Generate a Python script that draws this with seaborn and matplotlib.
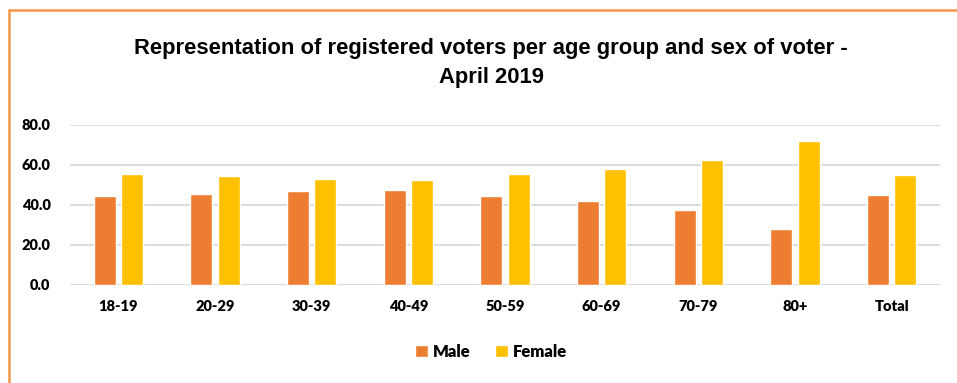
import pandas as pd
import matplotlib
matplotlib.use("Agg")
import matplotlib.pyplot as plt
import seaborn as sns
from matplotlib.patches import Rectangle

# Data (percent of registered voters)
age_groups = ["18-19", "20-29", "30-39", "40-49", "50-59", "60-69", "70-79", "80+", "Total"]
male = [44.4, 45.7, 47.2, 47.5, 44.3, 42.2, 37.6, 27.9, 45.0]
female = [55.6, 54.3, 52.8, 52.5, 55.7, 57.8, 62.4, 72.1, 55.0]
y_ticks = [0, 20, 40, 60, 80]

df = pd.DataFrame({
    "age": age_groups * 2,
    "sex": ["Male"] * len(male) + ["Female"] * len(female),
    "pct": male + female,
})

sns.set_style("white")
plt.rcParams["font.family"] = ["Lato", "DejaVu Sans"]
plt.rcParams["text.color"] = "black"
plt.rcParams["xtick.color"] = "black"
plt.rcParams["ytick.color"] = "black"

fig = plt.figure(figsize=(9.57, 3.83), dpi=100)
ax = fig.add_axes([70 / 957, 98 / 383, 870 / 957, 160 / 383])

sns.barplot(data=df, x="age", y="pct", hue="sex", order=age_groups,
            hue_order=["Male", "Female"], palette=["#ED7D31", "#FFC000"],
            saturation=1, width=0.57, gap=0.2, ax=ax, legend=True)

ax.set_ylim(0, 80)
ax.set_yticks(y_ticks)
ax.set_yticklabels([f"{v:.1f}" for v in y_ticks], fontweight="heavy", fontsize=10.5)
ax.set_xticks(range(len(age_groups)))
ax.set_xticklabels(age_groups, fontweight="heavy", fontsize=10.5)
ax.set_xlim(-0.5, len(age_groups) - 0.5)
ax.set_xlabel("")
ax.set_ylabel("")
ax.tick_params(axis="y", length=0, pad=14)
ax.tick_params(axis="x", length=0, pad=11)
ax.grid(axis="y", color="#D9D9D9", linewidth=1.3)
ax.set_axisbelow(True)
sns.despine(ax=ax, left=True, bottom=True, top=True, right=True)

leg = ax.legend(loc="center", bbox_to_anchor=(491 / 957, 1 - 352 / 383),
                bbox_transform=fig.transFigure, ncol=2, frameon=False,
                handlelength=0.75, handleheight=0.75, handletextpad=0.3,
                columnspacing=1.5, prop={"weight": "heavy", "size": 12})

fig.text(491 / 957, 1 - 63 / 383,
         "Representation of registered voters per age group and sex of voter -\nApril 2019",
         ha="center", va="center", fontsize=15.8, fontweight="bold", color="black",
         family=["Liberation Sans", "DejaVu Sans"], linespacing=1.5)

# orange chart border (right and bottom edges fall outside the image)
fig.patches.append(Rectangle((9 / 957, -0.1), 1.2, 1 - 10 / 383 + 0.1,
                             transform=fig.transFigure, fill=False,
                             edgecolor="#F79646", linewidth=1.8))

fig.savefig("out.png", dpi=100)
